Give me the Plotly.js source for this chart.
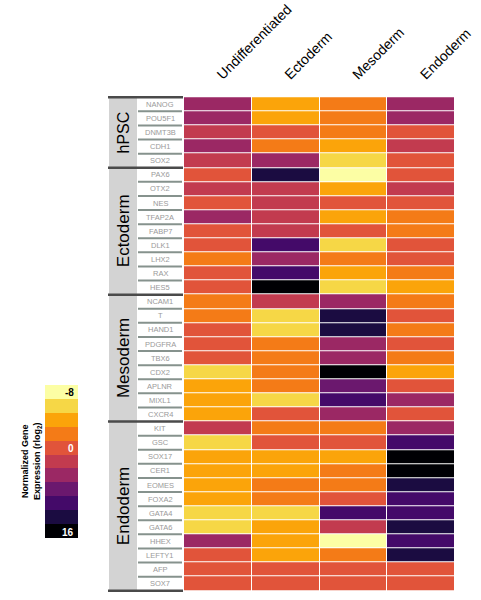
<!DOCTYPE html>
<html>
<head>
<meta charset="utf-8">
<script src="https://cdn.plot.ly/plotly-3.0.1.min.js"></script>
<style>html,body{margin:0;padding:0;background:#fff;}#chart{width:481px;height:600px;}</style>
</head>
<body>
<div id="chart"></div>
<script>
// ---- data ----
const columns = ["Undifferentiated", "Ectoderm", "Mesoderm", "Endoderm"];
const genes = ["NANOG","POU5F1","DNMT3B","CDH1","SOX2",
  "PAX6","OTX2","NES","TFAP2A","FABP7","DLK1","LHX2","RAX","HES5",
  "NCAM1","T","HAND1","PDGFRA","TBX6","CDX2","APLNR","MIXL1","CXCR4",
  "KIT","GSC","SOX17","CER1","EOMES","FOXA2","GATA4","GATA6","HHEX","LEFTY1","AFP","SOX7"];
const groups = ["hPSC", "Ectoderm", "Mesoderm", "Endoderm"];
const groupSizes = [5, 9, 9, 12];
// colour level per cell (0 = lightest, -8 ... 10 = darkest, 16)
const undifferentiated = [6,6,5,6,5, 4,5,4,6,4,4,3,4,4, 3,3,4,4,4,1,2,2,2, 5,1,2,2,2,2,1,1,6,4,4,4];
const ectoderm         = [2,2,4,3,6, 9,5,5,5,5,8,6,8,10, 5,1,1,3,3,3,3,1,4, 3,4,2,2,3,3,1,2,2,2,4,4];
const mesoderm         = [3,3,3,2,1, 0,2,4,2,4,1,3,2,1, 6,9,9,6,6,10,7,8,6, 3,4,2,3,3,4,8,5,0,3,4,4];
const endoderm         = [6,6,4,5,4, 4,5,4,3,3,4,4,3,2, 3,4,3,4,3,2,4,6,4, 6,8,10,10,9,8,8,9,8,9,4,4];
const levelColors = ["#fcfea4","#f6d746","#fba40a","#f47b17","#e1543a","#c23b4f",
  "#9b2864","#6b186e","#440a69","#1b0c41","#000004"];
const colorbarLabels = ["-8", "0", "16"];
const colorbarLabelLevels = [0, 4, 10];

// ---- build ----
const W = 481, H = 600;
const px = v => v / W;
const n = levelColors.length;
// colour bar runs light (top) to dark (bottom): plot the flipped level
const flip = lv => (n - 1) - lv;
const z = genes.map((g, i) => [undifferentiated[i], ectoderm[i], mesoderm[i], endoderm[i]].map(flip));
const colorscale = [];
levelColors.slice().reverse().forEach((c, i) => { colorscale.push([i / n, c]); colorscale.push([(i + 1) / n, c]); });

const cbTop = 385, cbBot = 538;
const trace = {
  type: "heatmap", x: columns, y: genes, z: z,
  zmin: -0.5, zmax: n - 0.5, colorscale: colorscale,
  xgap: 1, ygap: 1, hoverinfo: "x+y",
  colorbar: {
    x: px(45), xanchor: "left", xref: "paper",
    y: 1 - (cbTop + cbBot) / 2 / H, yanchor: "middle",
    len: cbBot - cbTop, lenmode: "pixels",
    thickness: 33, thicknessmode: "pixels",
    outlinewidth: 0, showticklabels: false, ticks: "",
    xpad: 0, ypad: 0
  }
};

const shapes = [];
const annotations = [];
const font = "Liberation Sans, Arial, sans-serif";
let start = 0;
groups.forEach((gname, gi) => {
  const end = start + groupSizes[gi] - 1;
  shapes.push({type: "rect", xref: "paper", yref: "y", x0: px(109), x1: px(137),
    y0: start - 0.5, y1: end + 0.5, fillcolor: "#d3d3d3", line: {width: 0}, layer: "below"});
  annotations.push({xref: "paper", yref: "y", x: px(123), y: (start + end) / 2,
    xanchor: "center", yanchor: "middle",
    text: gname, textangle: -90, showarrow: false,
    font: {family: font, size: gi === 0 ? 16 : 17, color: "#000"}});
  for (let r = start; r < end; r++) {
    shapes.push({type: "line", xref: "paper", yref: "y", x0: px(138), x1: px(182),
      y0: r + 0.5, y1: r + 0.5, line: {color: "#86928d", width: 2}});
  }
  shapes.push({type: "line", xref: "paper", yref: "y", x0: px(108), x1: px(183),
    y0: start - 0.5, y1: start - 0.5, line: {color: "#4a4a4a", width: 2.5}});
  start = end + 1;
});
shapes.push({type: "line", xref: "paper", yref: "y", x0: px(108), x1: px(183),
  y0: start - 0.5, y1: start - 0.5, line: {color: "#4a4a4a", width: 2.5}});

genes.forEach(g => {
  annotations.push({xref: "paper", yref: "y", x: px(160), y: g, xanchor: "center", yanchor: "middle",
    text: g, showarrow: false, font: {family: font, size: 7.5, color: "#9a9a9a"}});
});

// colorbar title and labels
annotations.push({xref: "paper", yref: "paper", x: px(31), y: 1 - 461 / H,
  xanchor: "center", yanchor: "middle",
  text: "<b>Normalized Gene<br>Expression (rlog<sub>2</sub>)</b>", textangle: -90, showarrow: false,
  font: {family: font, size: 9, color: "#000"}});
const bandH = (cbBot - cbTop) / n;
colorbarLabels.forEach((t, i) => {
  const lv = colorbarLabelLevels[i];
  annotations.push({xref: "paper", yref: "paper", x: px(76), xanchor: "right", yanchor: "middle",
    y: 1 - (cbTop + bandH * (lv + 0.5) + 1) / H, text: "<b>" + t + "</b>", showarrow: false,
    font: {family: font, size: 10, color: lv < 3 ? "#000" : "#fff"}});
});

const layout = {
  width: W, height: H, margin: {l: 0, r: 0, t: 0, b: 0},
  paper_bgcolor: "#fff", plot_bgcolor: "#fff",
  xaxis: {domain: [px(184), px(455)], side: "top", tickangle: -45, ticks: "",
    ticklabelstandoff: 10,
    tickfont: {family: font, size: 14, color: "#000"}, showgrid: false, zeroline: false,
    showline: false, automargin: false, fixedrange: true},
  yaxis: {domain: [1 - 592 / H, 1 - 96 / H], autorange: "reversed", showticklabels: false,
    ticks: "", showgrid: false, zeroline: false, showline: false, automargin: false, fixedrange: true},
  shapes: shapes, annotations: annotations, showlegend: false
};

Plotly.newPlot("chart", [trace], layout, {displayModeBar: false, staticPlot: true});
</script>
</body>
</html>
